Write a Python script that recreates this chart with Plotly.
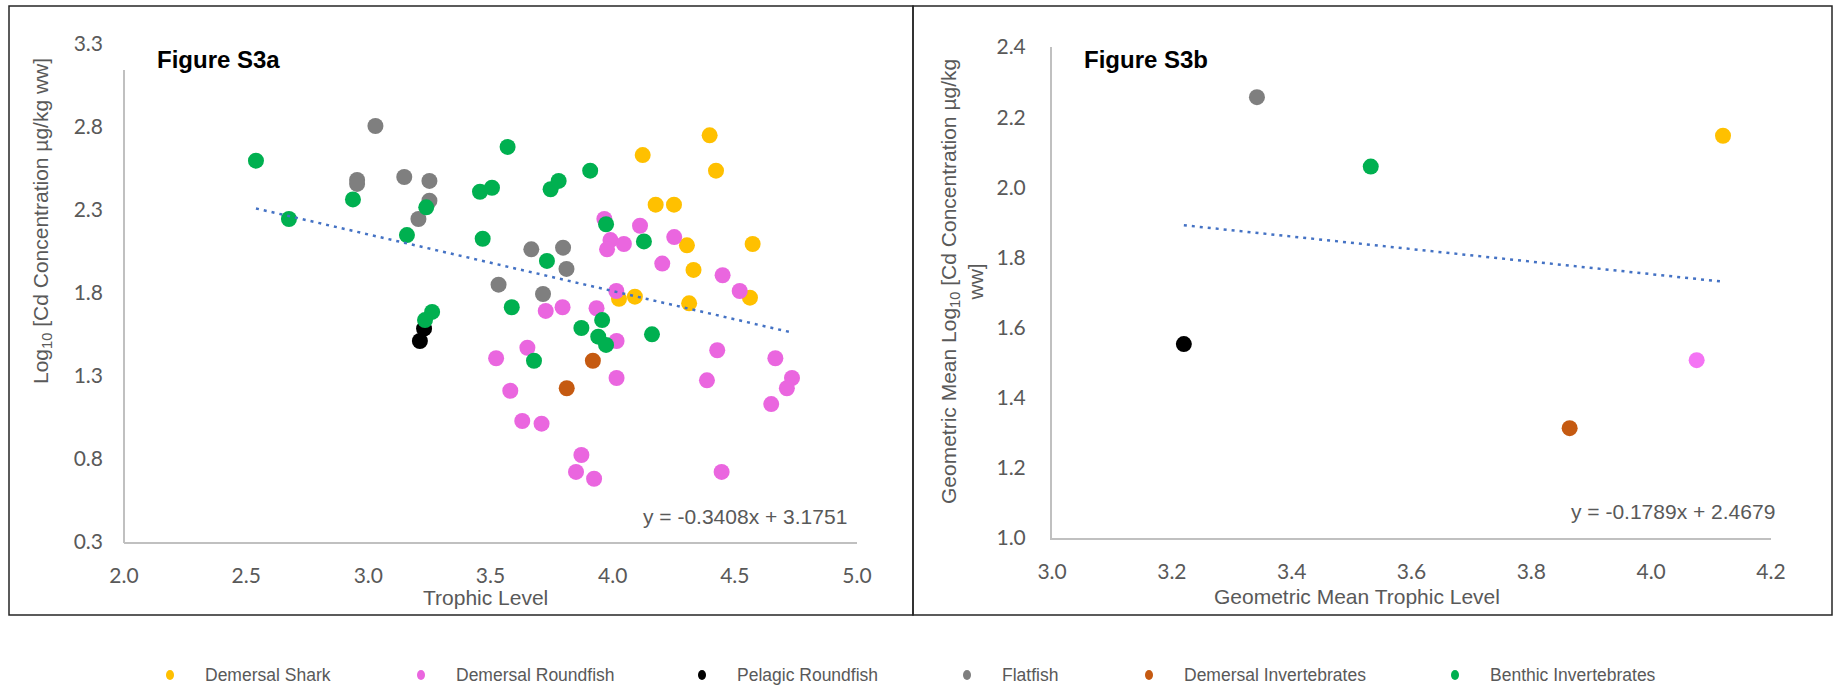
import plotly.graph_objects as go

W, H = 1834, 686

# ---------------- data ----------------
categories = ["Demersal Shark", "Demersal Roundfish", "Pelagic Roundfish",
              "Flatfish", "Demersal Invertebrates", "Benthic Invertebrates"]
colors_a = ["#FFC000", "#EA66DF", "#000000", "#7F7F7F", "#C55A11", "#00B050"]
colors_b = ["#FFC000", "#F474F4", "#000000", "#7F7F7F", "#C55A11", "#00B050"]

# Figure S3a : trophic level vs log10 Cd concentration
shark_tl = [4.123, 4.397, 4.423, 4.176, 4.251, 4.304, 4.573, 4.331, 4.026, 4.091, 4.313, 4.562]
shark_cd = [2.631, 2.750, 2.537, 2.332, 2.332, 2.087, 2.095, 1.939, 1.765, 1.778, 1.738, 1.772]

roundfish_tl = [3.966, 4.112, 3.991, 4.046, 3.977, 4.252, 4.203, 4.450, 4.520, 4.015,
                3.726, 3.795, 3.934, 4.016, 3.651, 3.523, 4.016, 3.581, 3.630, 3.709,
                3.872, 3.850, 3.924, 4.446, 4.428, 4.386, 4.666, 4.734, 4.713, 4.649]
roundfish_cd = [2.246, 2.205, 2.119, 2.095, 2.063, 2.137, 1.977, 1.907, 1.812, 1.812,
                1.692, 1.714, 1.708, 1.511, 1.470, 1.407, 1.288, 1.211, 1.029, 1.013,
                0.824, 0.722, 0.681, 0.722, 1.455, 1.274, 1.407, 1.288, 1.226, 1.131]

pelagic_tl = [3.228, 3.211]
pelagic_cd = [1.585, 1.511]

flatfish_tl = [3.029, 2.954, 2.954, 3.147, 3.250, 3.250, 3.205, 3.667, 3.797, 3.811, 3.533, 3.715]
flatfish_cd = [2.806, 2.481, 2.457, 2.499, 2.475, 2.356, 2.246, 2.063, 2.073, 1.945, 1.850, 1.794]

dem_inv_tl = [3.919, 3.812]
dem_inv_cd = [1.392, 1.226]

benthic_tl = [2.540, 2.675, 2.937, 3.237, 3.158, 3.457, 3.506, 3.570, 3.746, 3.779,
              3.908, 3.468, 3.731, 3.261, 3.232, 3.587, 3.973, 4.128, 3.957, 3.872,
              3.941, 3.973, 4.161, 3.678]
benthic_cd = [2.597, 2.246, 2.364, 2.316, 2.149, 2.410, 2.434, 2.680, 2.425, 2.475,
              2.537, 2.127, 1.993, 1.686, 1.637, 1.714, 2.214, 2.111, 1.637, 1.589,
              1.537, 1.487, 1.551, 1.392]

# Figure S3b : geometric means per group (same order as categories)
gm_tl = [4.120, 4.076, 3.220, 3.342, 3.864, 3.532]
gm_cd = [2.147, 1.507, 1.553, 2.257, 1.313, 2.059]

# Trend lines (slope, intercept)
trend_a = (-0.3408, 3.1751)
trend_b = (-0.1789, 2.4679)

# Tick values
xticks_a = [2.0, 2.5, 3.0, 3.5, 4.0, 4.5, 5.0]
yticks_a = [0.3, 0.8, 1.3, 1.8, 2.3, 2.8, 3.3]
xticks_b = [3.0, 3.2, 3.4, 3.6, 3.8, 4.0, 4.2]
yticks_b = [1.0, 1.2, 1.4, 1.6, 1.8, 2.0, 2.2, 2.4]

series_a = [(shark_tl, shark_cd), (roundfish_tl, roundfish_cd), (pelagic_tl, pelagic_cd),
            (flatfish_tl, flatfish_cd), (dem_inv_tl, dem_inv_cd), (benthic_tl, benthic_cd)]

# ---------------- figure ----------------
def px(x):
    return x / W

def py(y):
    return 1 - y / H

fig = go.Figure()

for name, col, (xs, ys) in zip(categories, colors_a, series_a):
    fig.add_trace(go.Scatter(x=xs, y=ys, mode="markers", name=name, showlegend=False,
                             marker=dict(size=16, color=col, line=dict(width=0)),
                             xaxis="x", yaxis="y"))

all_x = [v for xs, _ in series_a for v in xs]
tx = [min(all_x), max(all_x)]
fig.add_trace(go.Scatter(x=tx, y=[trend_a[0] * v + trend_a[1] for v in tx], mode="lines",
                         showlegend=False, line=dict(color="#4472C4", width=2.5, dash="3px,5px"),
                         xaxis="x", yaxis="y"))

for i, name in enumerate(categories):
    fig.add_trace(go.Scatter(x=[gm_tl[i]], y=[gm_cd[i]], mode="markers", name=name, showlegend=False,
                             marker=dict(size=16, color=colors_b[i], line=dict(width=0)),
                             xaxis="x2", yaxis="y2"))

tx2 = [min(gm_tl), max(gm_tl)]
fig.add_trace(go.Scatter(x=tx2, y=[trend_b[0] * v + trend_b[1] for v in tx2], mode="lines",
                         showlegend=False, line=dict(color="#4472C4", width=2.5, dash="3px,5px"),
                         xaxis="x2", yaxis="y2"))

tickfont = dict(family="Lato, Liberation Sans, sans-serif", size=21, color="#595959")
axis_common = dict(showgrid=False, zeroline=False, ticks="", tickfont=tickfont,
                   linecolor="#C0C0C0", linewidth=2, tickformat=".1f", automargin=False)

fig.update_layout(
    template="none",
    width=W, height=H,
    margin=dict(l=0, r=0, t=0, b=0, pad=0, autoexpand=False),
    paper_bgcolor="white", plot_bgcolor="white",
    showlegend=False,
    xaxis=dict(domain=[px(124), px(857)], range=[1.9999, 5.0001], tickvals=xticks_a,
               showline=True, anchor="y", ticklabelstandoff=14, **axis_common),
    yaxis=dict(domain=[py(542), py(44)], range=[0.2999, 3.3001], tickvals=yticks_a,
               showline=False, anchor="x", ticklabelstandoff=20, **axis_common),
    xaxis2=dict(domain=[px(1052), px(1771)], range=[2.9999, 4.2001], tickvals=xticks_b,
                showline=True, anchor="y2", ticklabelstandoff=14, **axis_common),
    yaxis2=dict(domain=[py(538), py(47)], range=[0.9999, 2.4001], tickvals=yticks_b,
                showline=True, anchor="x2", ticklabelstandoff=20, **axis_common),
)

shapes = []
# left y-axis line (shorter than the tick range, as in the reference)
shapes.append(dict(type="line", xref="paper", yref="paper", x0=px(124), x1=px(124),
                   y0=py(543), y1=py(70), line=dict(color="#C0C0C0", width=2)))
# panel frames
shapes.append(dict(type="rect", xref="paper", yref="paper", x0=px(9), x1=px(913),
                   y0=py(615), y1=py(6), line=dict(color="#262626", width=1.5)))
shapes.append(dict(type="rect", xref="paper", yref="paper", x0=px(913), x1=px(1832),
                   y0=py(615), y1=py(6), line=dict(color="#262626", width=1.5)))

title_font = dict(family="Liberation Sans, Arial, sans-serif", size=21, color="#595959")
annotations = [
    dict(text="<b>Figure S3a</b>", x=px(155), y=py(60), xanchor="left", yanchor="middle",
         font=dict(family="Liberation Sans, Arial, sans-serif", size=24, color="black")),
    dict(text="<b>Figure S3b</b>", x=px(1082), y=py(60), xanchor="left", yanchor="middle",
         font=dict(family="Liberation Sans, Arial, sans-serif", size=24, color="black")),
    dict(text="Trophic Level", x=px(486), y=py(597), xanchor="center", yanchor="middle", font=title_font),
    dict(text="Geometric Mean Trophic Level", x=px(1357), y=py(596), xanchor="center",
         yanchor="middle", font=title_font),
    dict(text="Log<sub>10</sub> [Cd Concentration µg/kg ww]", x=px(42), y=py(221), textangle=-90,
         xanchor="center", yanchor="middle", font=title_font),
    dict(text="Geometric Mean Log<sub>10</sub> [Cd Concentration µg/kg<br>ww]", x=px(962), y=py(282),
         textangle=-90, xanchor="center", yanchor="middle", align="center", font=title_font),
    dict(text="y = -0.3408x + 3.1751", x=px(849), y=py(516), xanchor="right", yanchor="middle",
         font=dict(family="Liberation Sans, Arial, sans-serif", size=21, color="#595959")),
    dict(text="y = -0.1789x + 2.4679", x=px(1777), y=py(511), xanchor="right", yanchor="middle",
         font=dict(family="Liberation Sans, Arial, sans-serif", size=21, color="#595959")),
]
for a in annotations:
    a.update(xref="paper", yref="paper", showarrow=False)

# legend (bottom, one row)
legend_x = [170, 421, 702, 967, 1149, 1455]
legend_y = 675
for name, col, lx in zip(categories, colors_a, legend_x):
    shapes.append(dict(type="circle", xref="paper", yref="paper", x0=px(lx - 4), x1=px(lx + 4),
                       y0=py(legend_y + 5), y1=py(legend_y - 5), fillcolor=col,
                       line=dict(width=0)))
    annotations.append(dict(text=name, x=px(lx + 33), y=py(legend_y), xref="paper", yref="paper",
                            xanchor="left", yanchor="middle", showarrow=False,
                            font=dict(family="Liberation Sans, Arial, sans-serif", size=17.5,
                                      color="#595959")))

fig.update_layout(shapes=shapes, annotations=annotations)
fig.write_html("out.html", config={"displayModeBar": False},
               post_script="document.body.style.margin='0';document.body.style.overflow='hidden';")
